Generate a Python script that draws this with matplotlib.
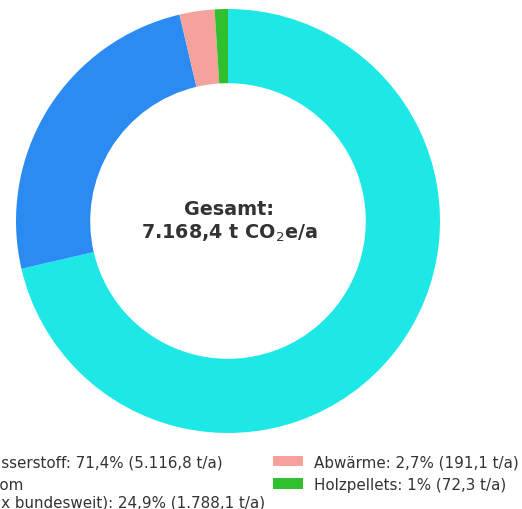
import matplotlib
matplotlib.use("Agg")
import matplotlib.pyplot as plt

# Emissionsquellen und ihre Jahresmengen in t CO2e/a
sources = ["Wasserstoff", "Strom\n(Mix bundesweit)", "Abwärme", "Holzpellets"]
emissions = [5116.8, 1788.1, 191.1, 72.3]
shares_pct = ["71,4%", "24,9%", "2,7%", "1%"]
amount_labels = ["5.116,8", "1.788,1", "191,1", "72,3"]
total_label = "7.168,4"
colors = ["#1de8e6", "#2b8bf2", "#f4a29b", "#2fbf2f"]

fig = plt.figure(figsize=(5.22, 5.10), dpi=100)
W, H = 522, 510
cx, cy, r = 228, 222, 212
ax = fig.add_axes([(cx - r) / W, (H - cy - r) / H, 2 * r / W, 2 * r / H])

wedges, _ = ax.pie(
    emissions,
    colors=colors,
    startangle=90,
    counterclock=False,
    radius=1.0,
    wedgeprops=dict(width=0.35, linewidth=0),
)
ax.set_xlim(-1, 1)
ax.set_ylim(-1, 1)
ax.set_aspect("equal")
ax.axis("off")

ax.text(0.005, 0.0, "Gesamt:\n" + total_label + r" t CO$_2$e/a",
        ha="center", va="center", fontsize=13.8, fontweight="bold",
        color="#333333", linespacing=1.2)

labels = [f"{s}: {p} ({a} t/a)" for s, p, a in zip(sources, shares_pct, amount_labels)]
leg = ax.legend(wedges, labels, loc="upper center", bbox_to_anchor=(0.5, -0.018),
                ncol=2, frameon=False, fontsize=10.9, columnspacing=0.5,
                handletextpad=0.7)
for t in leg.get_texts():
    t.set_color("#333333")

fig.savefig("out.png", dpi=100)
